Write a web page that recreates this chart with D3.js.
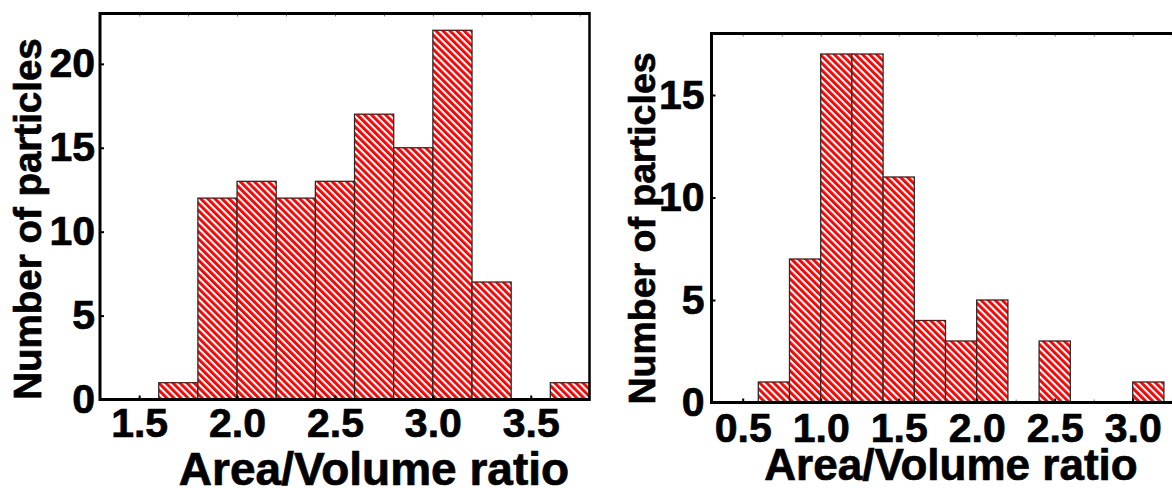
<!DOCTYPE html>
<html>
<head>
<meta charset="utf-8">
<script src="https://cdn.jsdelivr.net/npm/d3@7"></script>
<style>
  body { margin: 0; background: #fff; }
  svg { display: block; }
  text { font-family: "Liberation Sans", Arial, Helvetica, sans-serif; font-weight: bold; fill: #000;
         stroke: #000; stroke-width: 0.7px; }
</style>
</head>
<body>
<div class="chart"></div>
<script>
// bin starts (width 0.2) and counts
var binWidth = 0.2;

var binsLeft = [1.6, 1.8, 2.0, 2.2, 2.4, 2.6, 2.8, 3.0, 3.2, 3.4, 3.6];
var countsLeft = [1, 12, 13, 12, 13, 17, 15, 22, 7, 0, 1];
var xTicksLeft = [1.5, 2.0, 2.5, 3.0, 3.5];
var yTicksLeft = [0, 5, 10, 15, 20];

var binsRight = [0.6, 0.8, 1.0, 1.2, 1.4, 1.6, 1.8, 2.0, 2.2, 2.4, 2.6, 2.8, 3.0];
var countsRight = [1, 7, 17, 17, 11, 4, 3, 5, 0, 3, 0, 0, 1];
var xTicksRight = [0.5, 1.0, 1.5, 2.0, 2.5, 3.0];
var yTicksRight = [0, 5, 10, 15];

var xTitle = "Area/Volume ratio";
var yTitle = "Number of particles";

var svg = d3.select(".chart").append("svg")
    .attr("width", 1172)
    .attr("height", 488);

// red diagonal hatch
var pat = svg.append("defs").append("pattern")
    .attr("id", "hatch")
    .attr("patternUnits", "userSpaceOnUse")
    .attr("width", 5)
    .attr("height", 5)
    .attr("patternTransform", "rotate(-45)");
pat.append("rect").attr("width", 5).attr("height", 5).attr("fill", "#fff");
pat.append("rect").attr("width", 2.9).attr("height", 5).attr("fill", "#ff0000");

var panels = [
  { bins: binsLeft, counts: countsLeft, xTicks: xTicksLeft, yTicks: yTicksLeft,
    xDom: [1.3, 3.8], xRange: [100, 589.5], yDom: [0, 23], yRange: [399.5, 13.5],
    xPad: 8, yPad: 5, titleX: 374, titleY: 485, titleSize: 46,
    yLabX: 41, yLabY: 219, yLabSize: 38.5 },
  { bins: binsRight, counts: countsRight, xTicks: xTicksRight, yTicks: yTicksRight,
    xDom: [0.3, 3.4], xRange: [711.5, 711.5 + 3.1 * 156], yDom: [0, 18], yRange: [402.5, 33.5],
    xPad: 10, yPad: 7, titleX: 951, titleY: 480, titleSize: 44,
    yLabX: 655, yLabY: 228.5, yLabSize: 37.5 }
];

panels.forEach(function(p) {
  var x = d3.scaleLinear().domain(p.xDom).range(p.xRange);
  var y = d3.scaleLinear().domain(p.yDom).range(p.yRange);
  var g = svg.append("g");

  var data = p.bins.map(function(b, i) { return { x0: b, n: p.counts[i] }; })
      .filter(function(d) { return d.n > 0; });

  g.selectAll(".bar")
      .data(data)
    .enter().append("rect")
      .attr("class", "bar")
      .attr("x", function(d) { return x(d.x0); })
      .attr("width", function(d) { return x(d.x0 + binWidth) - x(d.x0); })
      .attr("y", function(d) { return y(d.n); })
      .attr("height", function(d) { return y(0) - y(d.n); })
      .attr("fill", "url(#hatch)")
      .attr("stroke", "#2a2a2a")
      .attr("stroke-width", 1.3);

  // minor ticks every 0.25 on bottom and top
  var minor = d3.range(Math.ceil(p.xDom[0] * 4) / 4, p.xDom[1], 0.25)
      .filter(function(v) { return Math.abs(v * 2 - Math.round(v * 2)) > 1e-6; });

  var bottom = g.append("g")
      .attr("transform", "translate(0," + y(0) + ")")
      .call(d3.axisBottom(x).tickValues(p.xTicks).tickSizeInner(-4).tickSizeOuter(0)
        .tickPadding(p.xPad).tickFormat(d3.format(".1f")));
  bottom.select(".domain").remove();
  bottom.selectAll(".tick line").attr("stroke", "#000").attr("stroke-width", 2);
  bottom.selectAll("text").style("font-size", "41px").attr("fill", "#000");

  var bMinor = g.append("g")
      .attr("transform", "translate(0," + y(0) + ")")
      .call(d3.axisBottom(x).tickValues(minor).tickSizeInner(-3).tickSizeOuter(0).tickFormat(""));
  bMinor.select(".domain").remove();
  bMinor.selectAll(".tick line").attr("stroke", "#777").attr("stroke-width", 1);

  var top = g.append("g")
      .attr("transform", "translate(0," + y(p.yDom[1]) + ")")
      .call(d3.axisTop(x).tickValues(p.xTicks.concat(minor)).tickSizeInner(-3).tickSizeOuter(0).tickFormat(""));
  top.select(".domain").remove();
  top.selectAll(".tick line").attr("stroke", "#777").attr("stroke-width", 1);

  var left = g.append("g")
      .attr("transform", "translate(" + x(p.xDom[0]) + ",0)")
      .call(d3.axisLeft(y).tickValues(p.yTicks).tickSizeInner(-4).tickSizeOuter(0).tickPadding(p.yPad));
  left.select(".domain").remove();
  left.selectAll(".tick line").attr("stroke", "#000").attr("stroke-width", 2);
  left.selectAll("text").style("font-size", "41px").attr("fill", "#000");

  // frame
  var x0 = x(p.xDom[0]), x1 = x(p.xDom[1]), y0 = y(0), y1 = y(p.yDom[1]);
  g.append("line").attr("x1", x0).attr("x2", x1).attr("y1", y0).attr("y2", y0)
      .attr("stroke", "#000").attr("stroke-width", 3);
  g.append("line").attr("x1", x0).attr("x2", x1).attr("y1", y1).attr("y2", y1)
      .attr("stroke", "#000").attr("stroke-width", 3);
  g.append("line").attr("x1", x0).attr("x2", x0).attr("y1", y1 - 1.5).attr("y2", y0 + 1.5)
      .attr("stroke", "#000").attr("stroke-width", 3);
  g.append("line").attr("x1", x1).attr("x2", x1).attr("y1", y1 - 1.5).attr("y2", y0 + 1.5)
      .attr("stroke", "#000").attr("stroke-width", 2.5);

  g.append("text")
      .attr("x", p.titleX)
      .attr("y", p.titleY)
      .style("text-anchor", "middle")
      .style("font-size", p.titleSize + "px")
      .text(xTitle);

  g.append("text")
      .attr("transform", "translate(" + p.yLabX + "," + p.yLabY + ") rotate(-90)")
      .style("text-anchor", "middle")
      .style("font-size", p.yLabSize + "px")
      .text(yTitle);
});
</script>
</body>
</html>
